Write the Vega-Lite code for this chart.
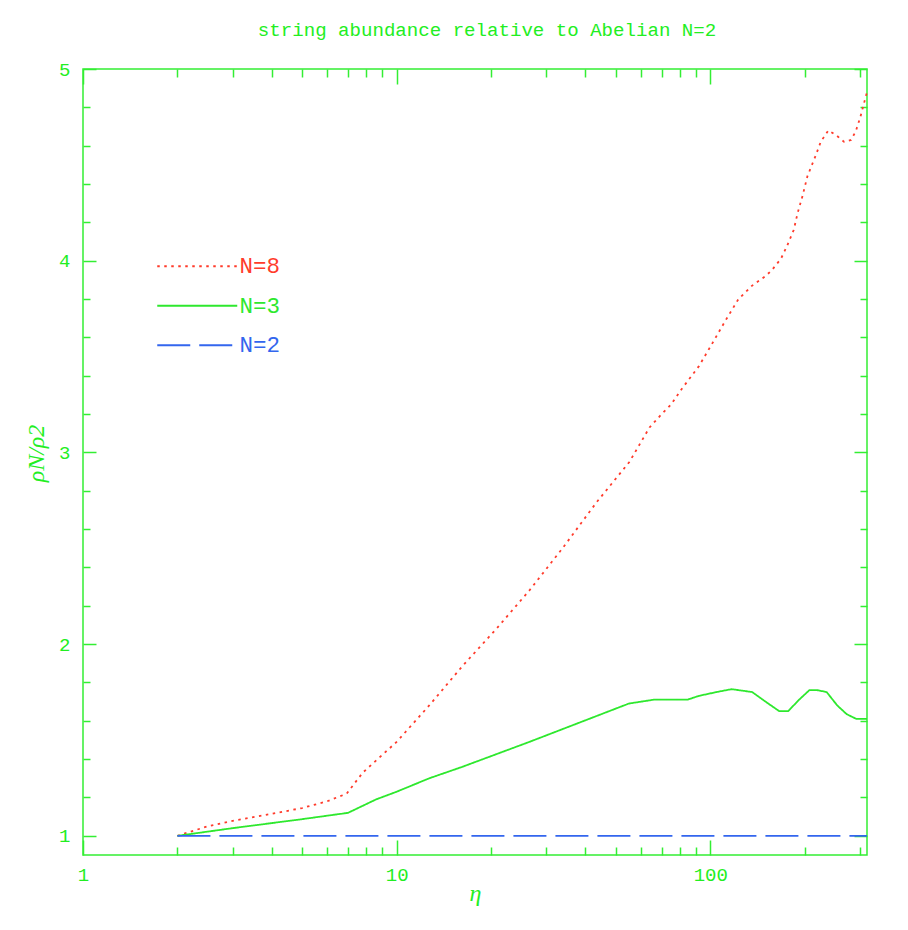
{
  "$schema": "https://vega.github.io/schema/vega-lite/v6.json",
  "width": 784,
  "height": 786,
  "autosize": {"type": "none"},
  "padding": {"left": 83, "top": 69, "right": 41, "bottom": 75},
  "background": "white",
  "title": {
    "text": "string abundance relative to Abelian N=2",
    "font": "Liberation Mono",
    "fontSize": 19.1,
    "fontWeight": "normal",
    "color": "#22ee22",
    "anchor": "middle",
    "dx": 12,
    "offset": 5,
    "baseline": "alphabetic"
  },
  "config": {
    "view": {"stroke": "#33ee33", "strokeWidth": 1.5},
    "axis": {
      "domain": false,
      "grid": false,
      "labelFont": "Liberation Mono",
      "labelFontSize": 19,
      "labelColor": "#22ee22",
      "tickColor": "#33ee33",
      "tickWidth": 1.5,
      "titleColor": "#22ee22",
      "labelFlush": false,
      "labelOverlap": false
    }
  },
  "datasets": {
    "lines": [
      {"series": "N=8", "eta": 2, "value": 1.0},
      {"series": "N=8", "eta": 2.5, "value": 1.05},
      {"series": "N=8", "eta": 3, "value": 1.078},
      {"series": "N=8", "eta": 4, "value": 1.115},
      {"series": "N=8", "eta": 5, "value": 1.145},
      {"series": "N=8", "eta": 6, "value": 1.18},
      {"series": "N=8", "eta": 6.93, "value": 1.22},
      {"series": "N=8", "eta": 7.8, "value": 1.33},
      {"series": "N=8", "eta": 10, "value": 1.49},
      {"series": "N=8", "eta": 12.7, "value": 1.68},
      {"series": "N=8", "eta": 16.2, "value": 1.885},
      {"series": "N=8", "eta": 20.8, "value": 2.08},
      {"series": "N=8", "eta": 26.5, "value": 2.28},
      {"series": "N=8", "eta": 33.8, "value": 2.5},
      {"series": "N=8", "eta": 43.4, "value": 2.74},
      {"series": "N=8", "eta": 55.2, "value": 2.95},
      {"series": "N=8", "eta": 64, "value": 3.13},
      {"series": "N=8", "eta": 70, "value": 3.2},
      {"series": "N=8", "eta": 75, "value": 3.25},
      {"series": "N=8", "eta": 81, "value": 3.33},
      {"series": "N=8", "eta": 92, "value": 3.45},
      {"series": "N=8", "eta": 101.6, "value": 3.57},
      {"series": "N=8", "eta": 112, "value": 3.69},
      {"series": "N=8", "eta": 123, "value": 3.8},
      {"series": "N=8", "eta": 136, "value": 3.87},
      {"series": "N=8", "eta": 150, "value": 3.92},
      {"series": "N=8", "eta": 157, "value": 3.95},
      {"series": "N=8", "eta": 168, "value": 4.01},
      {"series": "N=8", "eta": 176, "value": 4.08},
      {"series": "N=8", "eta": 184.5, "value": 4.16},
      {"series": "N=8", "eta": 190, "value": 4.25},
      {"series": "N=8", "eta": 197, "value": 4.34},
      {"series": "N=8", "eta": 204, "value": 4.44},
      {"series": "N=8", "eta": 217, "value": 4.55},
      {"series": "N=8", "eta": 225, "value": 4.62},
      {"series": "N=8", "eta": 238, "value": 4.68},
      {"series": "N=8", "eta": 252, "value": 4.655},
      {"series": "N=8", "eta": 267, "value": 4.62},
      {"series": "N=8", "eta": 281, "value": 4.63},
      {"series": "N=8", "eta": 291, "value": 4.675},
      {"series": "N=8", "eta": 301, "value": 4.75},
      {"series": "N=8", "eta": 316, "value": 4.88},
      {"series": "N=3", "eta": 2, "value": 1.0},
      {"series": "N=3", "eta": 3, "value": 1.04},
      {"series": "N=3", "eta": 5, "value": 1.087},
      {"series": "N=3", "eta": 7, "value": 1.12},
      {"series": "N=3", "eta": 8.6, "value": 1.19},
      {"series": "N=3", "eta": 10, "value": 1.23},
      {"series": "N=3", "eta": 12.7, "value": 1.3},
      {"series": "N=3", "eta": 16.2, "value": 1.36},
      {"series": "N=3", "eta": 26.5, "value": 1.49},
      {"series": "N=3", "eta": 43.4, "value": 1.625},
      {"series": "N=3", "eta": 55, "value": 1.69},
      {"series": "N=3", "eta": 66, "value": 1.71},
      {"series": "N=3", "eta": 84.5, "value": 1.71},
      {"series": "N=3", "eta": 92, "value": 1.73},
      {"series": "N=3", "eta": 104.7, "value": 1.75},
      {"series": "N=3", "eta": 117, "value": 1.765},
      {"series": "N=3", "eta": 136, "value": 1.75},
      {"series": "N=3", "eta": 150, "value": 1.7},
      {"series": "N=3", "eta": 166, "value": 1.65},
      {"series": "N=3", "eta": 177, "value": 1.65},
      {"series": "N=3", "eta": 192, "value": 1.71},
      {"series": "N=3", "eta": 207, "value": 1.76},
      {"series": "N=3", "eta": 219, "value": 1.76},
      {"series": "N=3", "eta": 235, "value": 1.75},
      {"series": "N=3", "eta": 254, "value": 1.68},
      {"series": "N=3", "eta": 272, "value": 1.635},
      {"series": "N=3", "eta": 292, "value": 1.61},
      {"series": "N=3", "eta": 316, "value": 1.61},
      {"series": "N=2", "eta": 2, "value": 1.0},
      {"series": "N=2", "eta": 316, "value": 1.0}
    ]
  },
  "data": {"name": "lines"},
  "layer": [
    {
      "mark": {"type": "line", "strokeWidth": 1.8},
      "encoding": {
        "x": {
          "field": "eta",
          "type": "quantitative",
          "scale": {"type": "log", "domain": [1, 316], "nice": false},
          "axis": {
            "orient": "bottom",
            "values": [1, 2, 3, 4, 5, 6, 7, 8, 9, 10, 20, 30, 40, 50, 60, 70, 80, 90, 100, 200, 300],
            "tickSize": {"condition": {"test": "datum.value == 1 || datum.value == 10 || datum.value == 100", "value": -15}, "value": -8},
            "labelExpr": "datum.value == 1 || datum.value == 10 || datum.value == 100 ? format(datum.value, 'd') : ''",
            "labelPadding": 25,
            "labelBaseline": "top",
            "title": "η",
            "titleFont": "Liberation Serif",
            "titleFontStyle": "italic",
            "titleFontWeight": "normal",
            "titleFontSize": 24,
            "titleX": 392,
            "titleY": 45,
            "titleAlign": "center",
            "titleBaseline": "alphabetic"
          }
        },
        "y": {
          "field": "value",
          "type": "quantitative",
          "scale": {"domain": [0.9, 5], "nice": false, "zero": false},
          "axis": {
            "orient": "left",
            "values": [1, 1.2, 1.4, 1.6, 1.8, 2, 2.2, 2.4, 2.6, 2.8, 3, 3.2, 3.4, 3.6, 3.8, 4, 4.2, 4.4, 4.6, 4.8, 5],
            "tickSize": {"condition": {"test": "datum.value % 1 == 0", "value": -13}, "value": -7},
            "labelExpr": "datum.value % 1 == 0 ? format(datum.value, 'd') : ''",
            "labelPadding": 26,
            "title": "ρN/ρ2",
            "titleFont": "Liberation Serif",
            "titleFontStyle": "italic",
            "titleFontWeight": "normal",
            "titleFontSize": 24,
            "titleAngle": 270,
            "titleX": -40,
            "titleY": 384,
            "titleAlign": "center",
            "titleBaseline": "alphabetic"
          }
        },
        "color": {
          "field": "series",
          "type": "nominal",
          "scale": {"domain": ["N=8", "N=3", "N=2"], "range": ["#ff3b2b", "#2ee82e", "#3366ee"]},
          "legend": {
            "orient": "none",
            "legendX": 138,
            "legendY": 186,
            "title": null,
            "symbolType": "M-15,0H1",
            "symbolSize": 100,
            "symbolStrokeWidth": 1.8,
            "labelFont": "Liberation Mono",
            "labelFontSize": 22.5,
            "labelOffset": -4,
            "rowPadding": 16.5,
            "padding": 0,
            "encode": {"labels": {"update": {"fill": {"signal": "scale('color', datum.value)"}}}}
          }
        },
        "strokeDash": {
          "field": "series",
          "type": "nominal",
          "scale": {"domain": ["N=8", "N=3", "N=2"], "range": [[2.5, 4.5], [1, 0], [33, 9]]},
          "legend": null
        }
      }
    },
    {
      "mark": {"type": "point", "opacity": 0},
      "encoding": {
        "x": {
          "field": "eta",
          "type": "quantitative",
          "axis": {
            "orient": "top",
            "values": [1, 2, 3, 4, 5, 6, 7, 8, 9, 10, 20, 30, 40, 50, 60, 70, 80, 90, 100, 200, 300],
            "tickSize": {"condition": {"test": "datum.value == 1 || datum.value == 10 || datum.value == 100", "value": -15}, "value": -8},
            "labels": false,
            "title": null
          }
        },
        "y": {
          "field": "value",
          "type": "quantitative",
          "axis": {
            "orient": "right",
            "values": [1, 1.2, 1.4, 1.6, 1.8, 2, 2.2, 2.4, 2.6, 2.8, 3, 3.2, 3.4, 3.6, 3.8, 4, 4.2, 4.4, 4.6, 4.8, 5],
            "tickSize": {"condition": {"test": "datum.value % 1 == 0", "value": -13}, "value": -7},
            "labels": false,
            "title": null
          }
        }
      }
    }
  ],
  "resolve": {"axis": {"x": "independent", "y": "independent"}}
}
